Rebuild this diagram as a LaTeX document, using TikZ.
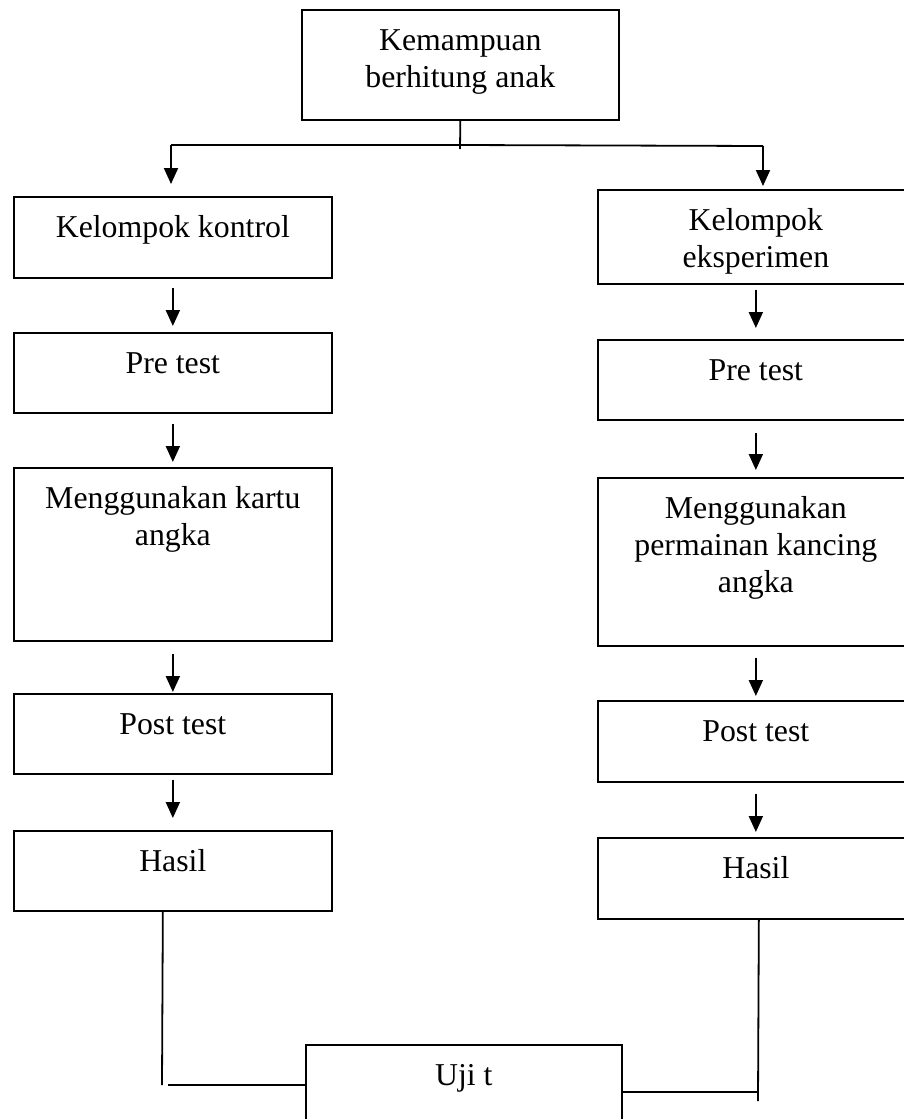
\documentclass[tikz,border=0pt]{standalone}
\usepackage{fontspec}
\setmainfont{Liberation Serif}
\usetikzlibrary{arrows.meta}
\newcommand\btext[3]{\parbox[t][#1][t]{#2}{\centering\vspace*{15.1pt}\strut #3\par}}
\tikzset{
  box/.style={draw, line width=1.7pt, inner sep=0pt, anchor=north west, font=\fontsize{31.8}{37}\selectfont},
  conn/.style={line width=1.8pt},
  arr/.style={line width=2pt, -{Triangle[length=16pt,width=14pt]}}
}
\begin{document}
\begin{tikzpicture}[x=1pt,y=-1pt]
\useasboundingbox (0,0) rectangle (904,1119);
% top
\node[box] (top) at (301,9) {\btext{110pt}{317pt}{Kemampuan\\berhitung anak}};
% left column
\node[box] (kk) at (13,196) {\btext{81pt}{318pt}{Kelompok kontrol}};
\node[box] (pre1) at (13,332) {\btext{80pt}{318pt}{Pre test}};
\node[box] (mk) at (13,467) {\btext{173pt}{318pt}{Menggunakan kartu\\angka}};
\node[box] (post1) at (13,693) {\btext{80pt}{318pt}{Post test}};
\node[box] (h1) at (13,830) {\btext{80pt}{318pt}{Hasil}};
% right column
\node[box] (ke) at (597,189) {\btext{94pt}{316pt}{Kelompok\\eksperimen}};
\node[box] (pre2) at (597,339) {\btext{80pt}{316pt}{Pre test}};
\node[box] (mp) at (597,477) {\btext{168pt}{316pt}{Menggunakan\\permainan kancing\\angka}};
\node[box] (post2) at (597,700) {\btext{81pt}{316pt}{Post test}};
\node[box] (h2) at (597,837) {\btext{81pt}{316pt}{Hasil}};
% bottom
\node[box] (uji) at (305,1044) {\btext{100pt}{316pt}{Uji t}};
% split from top
\coordinate (stemEnd) at (460,149);
\coordinate (sl) at (171,145);
\coordinate (sr) at (763,146);
\draw[conn] (top.south) -- (stemEnd);
\draw[conn] (sl) -- (460,145) -- (sr);
\draw[arr] (sl) -- ([yshift=12pt]kk.north -| sl);
\draw[arr] (sr) -- ([yshift=3pt]ke.north -| sr);
% left arrows
\draw[arr] ([yshift=-9pt]kk.south) -- ([yshift=6pt]pre1.north);
\draw[arr] ([yshift=-10pt]pre1.south) -- ([yshift=5pt]mk.north);
\draw[arr] ([yshift=-12pt]mk.south) -- ([yshift=1pt]post1.north);
\draw[arr] ([yshift=-5pt]post1.south) -- ([yshift=12pt]h1.north);
% right arrows
\draw[arr] ([yshift=-5pt]ke.south) -- ([yshift=11pt]pre2.north);
\draw[arr] ([yshift=-12pt]pre2.south) -- ([yshift=7pt]mp.north);
\draw[arr] ([yshift=-11pt]mp.south) -- ([yshift=4pt]post2.north);
\draw[arr] ([yshift=-11pt]post2.south) -- ([yshift=5pt]h2.north);
% joins to Uji t
\coordinate (lc) at (162,1085);
\coordinate (rc) at (758,1101);
\coordinate (rh) at (758,1092);
\draw[conn] ([xshift=-10pt]h1.south) -- (lc);
\draw[conn] ([xshift=6pt]lc) -- (uji.west |- lc);
\draw[conn] ([xshift=3pt]h2.south) -- (rc);
\draw[conn] (uji.east |- rh) -- (rh);
\end{tikzpicture}
\end{document}
